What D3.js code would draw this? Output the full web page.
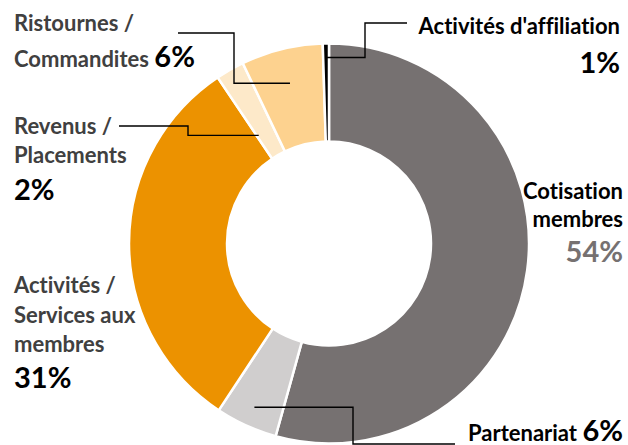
<!DOCTYPE html>
<html>
<head>
<meta charset="utf-8">
<script src="https://cdn.jsdelivr.net/npm/d3@7"></script>
<style>
  body { margin: 0; background: #fff; }
  svg { display: block; font-family: Lato, "Open Sans", sans-serif; font-weight: bold;
        font-variant-ligatures: none; }
</style>
</head>
<body>
<svg width="628" height="445"></svg>
<script>
var svg = d3.select('svg');

// slices, clockwise from 12 o'clock
var categories = ['Cotisation membres', 'Partenariat', 'Activités / Services aux membres',
                  'Revenus / Placements', 'Ristournes / Commandites', "Activités d'affiliation"];
var shares = [54.3, 5.0, 31.3, 2.3, 6.6, 0.5];
var pctLabels = ['54%', '6%', '31%', '2%', '6%', '1%'];
var colors = ['#767171', '#d0cece', '#ec9200', '#fde9c9', '#fdd28f', '#000000'];

var cx = 329, cy = 243.5;
var outerR = 200, innerR = 102;

var pie = d3.pie().sort(null).value(function(d){ return d; });
var arcs = pie(shares);

var arc = d3.arc().innerRadius(innerR).outerRadius(outerR);

var g = svg.append('g').attr('transform', 'translate(' + cx + ',' + cy + ')');

g.selectAll('.slice')
    .data(arcs)
    .enter()
    .append('path')
    .attr('class', 'slice')
    .attr('d', arc)
    .style('fill', function(d, i){ return colors[i]; })
    .style('stroke', '#fff')
    .style('stroke-width', 2.5);

// point on a slice: t = position through the slice, r = radius
function polar(i, t, r) {
    var a = arcs[i].startAngle + t * (arcs[i].endAngle - arcs[i].startAngle);
    return [cx + r * Math.sin(a), cy - r * Math.cos(a)];
}

// leader lines: label end -> elbow -> slice
var leaders = [
    {i: 1, t: 0.5, r: 180, x0: 455, y0: 444, ex: 353},
    {i: 3, t: 0.1, r: 129, x0: 119, y0: 126, ex: 188},
    {i: 4, t: 0.5, r: 165, x0: 178, y0: 33, ex: 234},
    {i: 5, t: 0.5, r: 186, x0: 407, y0: 23, ex: 365}
];

svg.selectAll('.leader')
    .data(leaders)
    .enter()
    .append('polyline')
    .attr('class', 'leader')
    .attr('points', function(d){
        var p = polar(d.i, d.t, d.r);
        return [[d.x0, d.y0], [d.ex, d.y0], [d.ex, p[1]], p].join(' ');
    })
    .style('fill', 'none')
    .style('stroke', '#000')
    .style('stroke-width', 1.4);

// text labels
var labelSize = 22, pctSize = 29;

function addText(x, y, anchor, str, size, color) {
    return svg.append('text')
        .attr('x', x).attr('y', y)
        .attr('text-anchor', anchor)
        .style('font-size', size + 'px')
        .style('fill', color)
        .text(str);
}

// Ristournes / Commandites
addText(14, 31, 'start', 'Ristournes /', labelSize, '#404040');
var t = addText(14, 67, 'start', '', labelSize, '#404040');
t.append('tspan').text('Commandites ');
t.append('tspan').style('font-size', pctSize + 'px').style('fill', '#000').text(pctLabels[4]);

// Revenus / Placements
addText(14, 134, 'start', 'Revenus /', labelSize, '#404040');
addText(14, 163, 'start', 'Placements', labelSize, '#404040');
addText(14, 200, 'start', pctLabels[3], pctSize, '#000');

// Activités / Services aux membres
addText(14, 293, 'start', 'Activités /', labelSize, '#404040');
addText(14, 323, 'start', 'Services aux', labelSize, '#404040');
addText(14, 352, 'start', 'membres', labelSize, '#404040');
addText(14, 388, 'start', pctLabels[2], pctSize, '#000');

// Activités d'affiliation
addText(620, 34, 'end', "Activités d'affiliation", labelSize, '#000');
addText(620, 73, 'end', pctLabels[5], pctSize, '#000');

// Cotisation membres
addText(623, 199, 'end', 'Cotisation', labelSize, '#000');
addText(623, 227, 'end', 'membres', labelSize, '#000');
addText(623, 262, 'end', pctLabels[0], pctSize, '#767171');

// Partenariat
var p = addText(623, 441, 'end', '', labelSize, '#000');
p.append('tspan').text('Partenariat ');
p.append('tspan').style('font-size', pctSize + 'px').text(pctLabels[1]);
</script>
</body>
</html>
